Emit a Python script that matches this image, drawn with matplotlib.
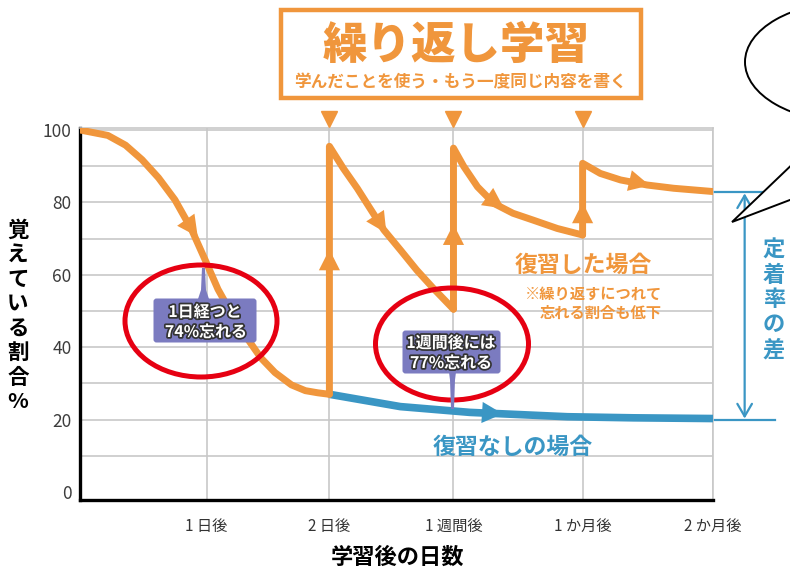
import numpy as np
import matplotlib
matplotlib.use("Agg")
import matplotlib.pyplot as plt
from matplotlib.patches import Rectangle, Ellipse, FancyBboxPatch, Polygon
import matplotlib.patheffects as pe

plt.rcParams['font.family'] = ['Noto Sans CJK JP', 'DejaVu Sans']

# データ
tick_pos = [1.0, 1.97, 2.95, 3.97, 5.0]
tick_labels = ['1 日後', '2 日後', '1 週間後', '1 か月後', '2 か月後']
y_ticks = [0, 20, 40, 60, 80, 100]

# 復習した場合(オレンジ)
x_seg1 = [0, 0.22, 0.36, 0.49, 0.62, 0.75, 0.88, 0.99, 1.09, 1.17, 1.22, 1.33, 1.43, 1.54, 1.67, 1.78, 1.88, 1.97]
y_seg1 = [100, 98.5, 95.8, 91.8, 86.8, 80.7, 72.6, 64, 56, 51, 48, 42, 37, 33, 29.6, 28, 27.4, 27]
x_seg2 = [1.97, 1.97, 2.08, 2.19, 2.29, 2.40, 2.53, 2.66, 2.79, 2.95]
y_seg2 = [27, 95.5, 89.4, 83.9, 78.4, 72.4, 66.9, 61.3, 56.3, 50.5]
x_seg3 = [2.95, 2.95, 3.03, 3.14, 3.27, 3.42, 3.58, 3.77, 3.97]
y_seg3 = [50.5, 95, 90, 84.3, 79.7, 77, 75.1, 72.8, 71]
x_seg4 = [3.97, 3.97, 4.11, 4.27, 4.48, 4.69, 5.0]
y_seg4 = [71, 90.8, 88, 86.2, 84.8, 83.9, 83]

# 復習なしの場合(青)
x_none = [1.97, 2.53, 3.08, 3.85, 4.37, 5.0]
y_none = [27, 23.6, 22, 20.8, 20.5, 20.3]

orange = '#f0963c'
blue = '#3a96c4'
purple = '#7b7bc0'
red = '#e60012'
grid_c = '#c8c8c8'

fig = plt.figure(figsize=(7.9, 5.74), dpi=100)
ax = fig.add_axes([80/790, 74/574, 633/790, 372/574])
ax.set_xlim(0, 5)
ax.set_ylim(-2.2, 100.55)

# グリッド
for yy in range(10, 101, 10):
    ax.axhline(yy, color=grid_c, lw=1.2, zorder=0)
for xx in tick_pos:
    ax.axvline(xx, color=grid_c, lw=1.2, zorder=0)

ax.set_xticks(tick_pos)
ax.set_xticklabels(tick_labels, fontsize=11, color='#333333')
ax.set_yticks(y_ticks)
ax.set_yticklabels([str(v) for v in y_ticks], fontsize=12.5, color='#3c3c3c')
ax.tick_params(axis='x', length=0, pad=13)
ax.tick_params(axis='y', length=0, pad=6)
for s in ['left', 'bottom']:
    ax.spines[s].set_color('black')
    ax.spines[s].set_linewidth(2.4)
for s in ['top', 'right']:
    ax.spines[s].set_color(grid_c)
    ax.spines[s].set_linewidth(1.2)

# 曲線
ax.plot(x_none, y_none, color=blue, lw=5.5, solid_capstyle='butt', solid_joinstyle='round', zorder=3)
for xs, ys in [(x_seg1, y_seg1), (x_seg2, y_seg2), (x_seg3, y_seg3), (x_seg4, y_seg4)]:
    ax.plot(xs, ys, color=orange, lw=5, solid_joinstyle='round', solid_capstyle='round', zorder=4)

# 矢印
head = dict(arrowstyle='-|>,head_length=0.75,head_width=0.38', mutation_scale=20, lw=0, shrinkA=0, shrinkB=0)
orange_arrows = [((0.81, 76.5), (0.93, 70.5)), ((2.30, 78), (2.42, 71.5)), ((3.20, 82), (3.35, 78.3)),
                 ((4.33, 86.1), (4.50, 84.7)), ((1.97, 60), (1.97, 67)), ((2.95, 67), (2.95, 74)),
                 ((3.97, 73), (3.97, 80))]
for p0, p1 in orange_arrows:
    ax.annotate('', xy=p1, xytext=p0, arrowprops=dict(head, color=orange), zorder=5)
ax.annotate('', xy=(3.34, 21.6), xytext=(3.12, 22.1), arrowprops=dict(head, color=blue), zorder=5)

# 上部の▼
ax.plot([1.97, 2.95, 3.97], [103, 103, 103], 'v', color=orange, markersize=12, clip_on=False, zorder=5)

# 定着率の差
ax.plot([5.0, 5.45], [83, 83], color=blue, lw=1.6, clip_on=False)
ax.plot([5.0, 5.49], [20, 20], color=blue, lw=1.6, clip_on=False)
ax.annotate('', xy=(5.25, 82.5), xytext=(5.25, 20.3),
            arrowprops=dict(arrowstyle='<->,head_length=0.6,head_width=0.35', mutation_scale=15,
                            color=blue, lw=1.6, shrinkA=0, shrinkB=0), annotation_clip=False)

# 重ね描き用(ピクセル座標)
ov = fig.add_axes([0, 0, 1, 1])
ov.set_xlim(0, 790)
ov.set_ylim(574, 0)
ov.axis('off')

# タイトル枠
ov.add_patch(Rectangle((281, 10), 360, 88, fill=True, facecolor='white', edgecolor=orange, lw=3.2))
ov.text(456, 45, '繰り返し学習', fontsize=32, fontweight='heavy', color=orange, ha='center', va='center')
ov.text(460, 82, '学んだことを使う・もう一度同じ内容を書く', fontsize=12, fontweight='bold',
        color=orange, ha='center', va='center')

# 吹き出し
ov.add_patch(Polygon([(732, 222), (847, 112), (995, 122)], closed=True, facecolor='white',
                     edgecolor='black', lw=1.4))
ov.add_patch(Ellipse((850, 62), 210, 120, facecolor='white', edgecolor='black', lw=1.4))

# 吹き出しラベル(紫)
outline = [pe.withStroke(linewidth=2.5, foreground='#333333')]
ov.add_patch(Polygon([(198, 299), (201, 290), (202, 268), (205, 268), (206, 290), (209, 299)],
                     closed=True, color=purple, lw=0))
ov.add_patch(FancyBboxPatch((155, 300), 100, 41, boxstyle='round,pad=1.5,rounding_size=3',
                            color=purple, lw=0))
ov.text(205, 312, '1日経つと', fontsize=11.5, fontweight='bold', color='white', ha='center',
        va='center', path_effects=outline)
ov.text(206, 332, '74%忘れる', fontsize=11.5, fontweight='bold', color='white', ha='center',
        va='center', path_effects=outline)

ov.add_patch(Polygon([(449, 372), (450, 380), (451, 409), (454, 409), (455, 380), (456, 372)],
                     closed=True, color=purple, lw=0, zorder=3))
ov.add_patch(FancyBboxPatch((404, 332), 95, 40, boxstyle='round,pad=1.5,rounding_size=3',
                            color=purple, lw=0))
ov.text(451, 343, '1週間後には', fontsize=11.5, fontweight='bold', color='white', ha='center',
        va='center', path_effects=outline)
ov.text(451, 363, '77%忘れる', fontsize=11.5, fontweight='bold', color='white', ha='center',
        va='center', path_effects=outline)

# 赤い丸
ov.add_patch(Ellipse((201, 321), 152, 112, fill=False, edgecolor=red, lw=3.6))
ov.add_patch(Ellipse((452, 344), 153, 112, fill=False, edgecolor=red, lw=3.6))

# 凡例テキスト
ov.text(515, 265, '復習した場合', fontsize=16.5, fontweight='bold', color=orange, ha='left', va='center')
ov.text(662, 294, '※繰り返すにつれて', fontsize=11, fontweight='bold', color=orange, ha='right', va='center')
ov.text(662, 313, '忘れる割合も低下', fontsize=11, fontweight='bold', color=orange, ha='right', va='center')
ov.text(433, 447, '復習なしの場合', fontsize=16.5, fontweight='bold', color=blue, ha='left', va='center')

for i, ch in enumerate('定着率の差'):
    ov.text(774, 250 + i * 25, ch, fontsize=16, fontweight='bold', color=blue, ha='center', va='center')

# 軸タイトル
for i, ch in enumerate('覚えている割合%'):
    ov.text(18, 230 + i * 24.5, ch, fontsize=15.5, fontweight='bold', color='black', ha='center', va='center')
ov.text(398, 557, '学習後の日数', fontsize=16, fontweight='bold', color='black', ha='center', va='center')

fig.savefig('out.png', dpi=100)
